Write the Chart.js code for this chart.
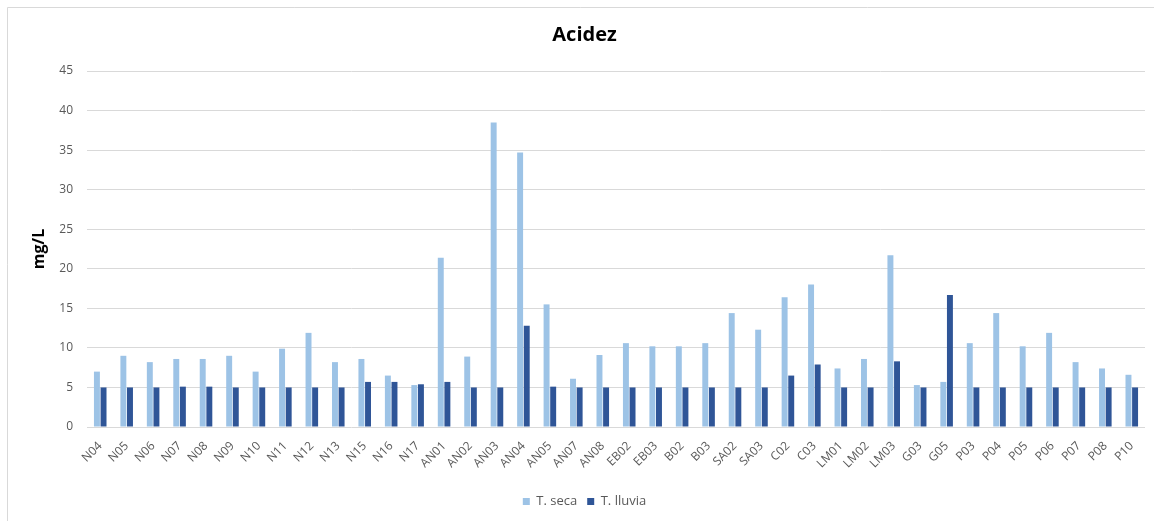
<!DOCTYPE html>
<html>
<head>
<meta charset="utf-8">
<script src="https://cdn.jsdelivr.net/npm/chart.js@4.4.1/dist/chart.umd.min.js"></script>
<style>
  html, body { margin: 0; padding: 0; background: #ffffff; }
  #wrap { width: 1154px; height: 521px; position: relative; }
</style>
</head>
<body>
<div id="wrap"><canvas id="chart" width="1154" height="521"></canvas></div>
<script>
// Sampling points
const estaciones = [
  'N04','N05','N06','N07','N08','N09','N10','N11','N12','N13','N15','N16','N17',
  'AN01','AN02','AN03','AN04','AN05','AN07','AN08',
  'EB02','EB03','B02','B03','SA02','SA03','C02','C03',
  'LM01','LM02','LM03','G03','G05',
  'P03','P04','P05','P06','P07','P08','P10'
];

// Acidity, dry season (mg/L)
const temporadaSeca = [
  7.0, 9.0, 8.2, 8.6, 8.6, 9.0, 7.0, 9.9, 11.9, 8.2, 8.6, 6.5, 5.3,
  21.4, 8.9, 38.5, 34.7, 15.5, 6.1, 9.1,
  10.6, 10.2, 10.2, 10.6, 14.4, 12.3, 16.4, 18.0,
  7.4, 8.6, 21.7, 5.3, 5.7,
  10.6, 14.4, 10.2, 11.9, 8.2, 7.4, 6.6
];

// Acidity, rainy season (mg/L)
const temporadaLluvia = [
  5.0, 5.0, 5.0, 5.1, 5.1, 5.0, 5.0, 5.0, 5.0, 5.0, 5.7, 5.7, 5.4,
  5.7, 5.0, 5.0, 12.8, 5.1, 5.0, 5.0,
  5.0, 5.0, 5.0, 5.0, 5.0, 5.0, 6.5, 7.9,
  5.0, 5.0, 8.3, 5.0, 16.7,
  5.0, 5.0, 5.0, 5.0, 5.0, 5.0, 5.0
];

const yTicks = [0, 5, 10, 15, 20, 25, 30, 35, 40, 45];

const FONT = "'Open Sans', 'Liberation Sans', sans-serif";

// White background with a thin frame on the top and left edges
const framePlugin = {
  id: 'frame',
  beforeDraw(chart) {
    const ctx = chart.ctx;
    ctx.save();
    ctx.fillStyle = '#ffffff';
    ctx.fillRect(0, 0, chart.width, chart.height);
    ctx.strokeStyle = '#d9d9d9';
    ctx.lineWidth = 1;
    ctx.beginPath();
    ctx.moveTo(7.5, chart.height);
    ctx.lineTo(7.5, 7.5);
    ctx.lineTo(chart.width, 7.5);
    ctx.stroke();
    ctx.restore();
  }
};

new Chart(document.getElementById('chart'), {
  type: 'bar',
  data: {
    labels: estaciones,
    datasets: [
      {
        label: 'T. seca',
        data: temporadaSeca,
        backgroundColor: '#9dc3e6',
        categoryPercentage: 0.5,
        barPercentage: 0.9
      },
      {
        label: 'T. lluvia',
        data: temporadaLluvia,
        backgroundColor: '#2f5597',
        categoryPercentage: 0.5,
        barPercentage: 0.9
      }
    ]
  },
  options: {
    responsive: false,
    animation: false,
    layout: { padding: { left: 24, right: 9, top: 0, bottom: 3 } },
    plugins: {
      title: {
        display: true,
        text: 'Acidez',
        color: '#000000',
        font: { family: FONT, size: 20, weight: 'bold' },
        padding: { top: 23, bottom: 24 }
      },
      legend: {
        position: 'bottom',
        labels: {
          color: '#595959',
          font: { family: FONT, size: 13 },
          boxWidth: 7,
          boxHeight: 7,
          padding: 10
        }
      },
      tooltip: { enabled: false }
    },
    scales: {
      x: {
        grid: { display: false },
        border: { display: false },
        ticks: {
          color: '#595959',
          font: { family: FONT, size: 12 },
          minRotation: 45,
          maxRotation: 45,
          autoSkip: false,
          padding: 4
        },
        afterFit(scale) { scale.height = 58; }
      },
      y: {
        min: 0,
        max: 45,
        afterBuildTicks(scale) { scale.ticks = yTicks.map(v => ({ value: v })); },
        grid: { color: '#d9d9d9', drawTicks: false },
        border: { display: false },
        ticks: {
          color: '#595959',
          font: { family: FONT, size: 12 },
          padding: 14
        },
        title: {
          display: true,
          text: 'mg/L',
          color: '#000000',
          font: { family: FONT, size: 16, weight: 'bold' },
          padding: { top: 6, bottom: 4 }
        },
        afterFit(scale) { scale.width = 63; }
      }
    }
  },
  plugins: [framePlugin]
});
</script>
</body>
</html>
